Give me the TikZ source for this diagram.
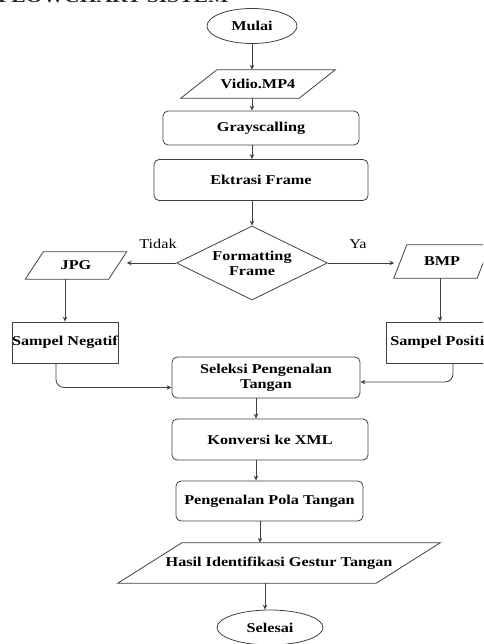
\documentclass[tikz,border=0pt]{standalone}
\usepackage{fontspec}
\setmainfont{Liberation Serif}[FakeStretch=1.2]
\usetikzlibrary{shapes.geometric,arrows.meta,calc}
\tikzset{
  ln/.style={draw=black!75, line width=0.8pt},
  arr/.style={ln, -{Stealth[length=5pt,width=4.5pt]}},
  txt/.style={font=\bfseries\fontsize{13.5}{15}\selectfont, text=black, align=center, inner sep=0pt},
  rbox/.style={txt, ln, rectangle, rounded corners=5pt},
  sbox/.style={txt, ln, rectangle},
  para/.style={txt, rectangle},
  term/.style={txt, ln, ellipse},
  dec/.style={txt, ln, diamond, shape aspect=2.04},
  lbl/.style={font=\fontsize{13.5}{15}\selectfont, text=black, inner sep=0pt}
}
\begin{document}
\begin{tikzpicture}[x=1pt,y=-1pt]
\useasboundingbox (0,0) rectangle (483,644);
\clip (0,0) rectangle (483,644);
\node[anchor=base west, font=\bfseries\fontsize{18}{20}\selectfont, text=black!85, inner sep=0pt] (title) at (-2,2.8) {FLOWCHART SISTEM};

\node[term, minimum width=90pt, minimum height=35pt] (mulai) at (252,26) {Mulai};
\node[para, minimum width=118pt, minimum height=28pt] (vid) at (258,84) {Vidio.MP4};
\draw[ln] ([xshift=-18pt]vid.south west) -- ([xshift=-18pt]vid.south east) -- ([xshift=18pt]vid.north east) -- ([xshift=18pt]vid.north west) -- cycle;
\node[rbox, minimum width=196pt, minimum height=34pt] (gray) at (261,128) {Grayscalling};
\node[rbox, minimum width=214pt, minimum height=41pt] (ekt) at (261,180) {Ektrasi Frame};
\node[dec, minimum width=151pt, minimum height=74pt] (dia) at (252,263) {Formatting\\Frame};

\node[para, minimum width=83pt, minimum height=27pt] (jpg) at (76,265.5) {JPG};
\draw[ln] ([xshift=-9pt]jpg.south west) -- ([xshift=-9pt]jpg.south east) -- ([xshift=9pt]jpg.north east) -- ([xshift=9pt]jpg.north west) -- cycle;
\node[para, minimum width=83pt, minimum height=33pt] (bmp) at (442,261.5) {BMP};
\draw[ln] ([xshift=-6.5pt]bmp.south west) -- ([xshift=-6.5pt]bmp.south east) -- ([xshift=6.5pt]bmp.north east) -- ([xshift=6.5pt]bmp.north west) -- cycle;

\node[sbox, minimum width=106pt, minimum height=41pt] (neg) at (65,342.5) {Sampel Negatif};
\node[sbox, minimum width=108pt, minimum height=41pt] (pos) at (440,342.5) {Sampel Positif};

\node[rbox, minimum width=188pt, minimum height=41pt] (sel) at (266,377.5) {Seleksi Pengenalan\\Tangan};
\node[rbox, minimum width=196pt, minimum height=41pt] (konv) at (270,439.5) {Konversi ke XML};
\node[rbox, minimum width=187pt, minimum height=40pt] (pola) at (269.5,501) {Pengenalan Pola Tangan};
\node[para, minimum width=258pt, minimum height=40pt] (hasil) at (279,563) {Hasil Identifikasi Gestur Tangan};
\draw[ln] ([xshift=-32pt]hasil.south west) -- ([xshift=-32pt]hasil.south east) -- ([xshift=32pt]hasil.north east) -- ([xshift=32pt]hasil.north west) -- cycle;
\node[term, minimum width=106pt, minimum height=35pt] (selesai) at (270,627.5) {Selesai};

\draw[arr] (mulai.south) -- (mulai.south |- vid.north);
\draw[arr] (mulai.south |- vid.south) -- (mulai.south |- gray.north);
\draw[arr] (mulai.south |- gray.south) -- (mulai.south |- ekt.north);
\draw[arr] (dia.north |- ekt.south) -- (dia.north);
\draw[arr] (dia.west) -- ([xshift=9pt]dia.west -| jpg.east);
\draw[arr] (dia.east) -- ([xshift=-6pt]dia.east -| bmp.west);
\node[lbl] (tidak) at (158,244) {Tidak};
\node[lbl] (ya) at (358,244) {Ya};
\draw[arr] (neg.north |- jpg.south) -- (neg.north);
\draw[arr] (pos.north |- bmp.south) -- (pos.north);
\draw[arr, rounded corners=8pt] ([xshift=-9pt]neg.south) |- ([yshift=-10pt]sel.west);
\draw[arr, rounded corners=8pt] ([xshift=13pt]pos.south) |- ([yshift=-4.5pt]sel.east);
\draw[arr] ([xshift=-10pt]sel.south) -- ([xshift=-10pt]sel.south |- konv.north);
\draw[arr] ([xshift=-14pt]konv.south) -- ([xshift=-14pt]konv.south |- pola.north);
\draw[arr] ([xshift=-9.5pt]pola.south) -- ([xshift=-9.5pt]pola.south |- hasil.north);
\draw[arr] ([xshift=-5pt]selesai.north |- hasil.south) -- ([xshift=-5pt]selesai.north);
\end{tikzpicture}
\end{document}
